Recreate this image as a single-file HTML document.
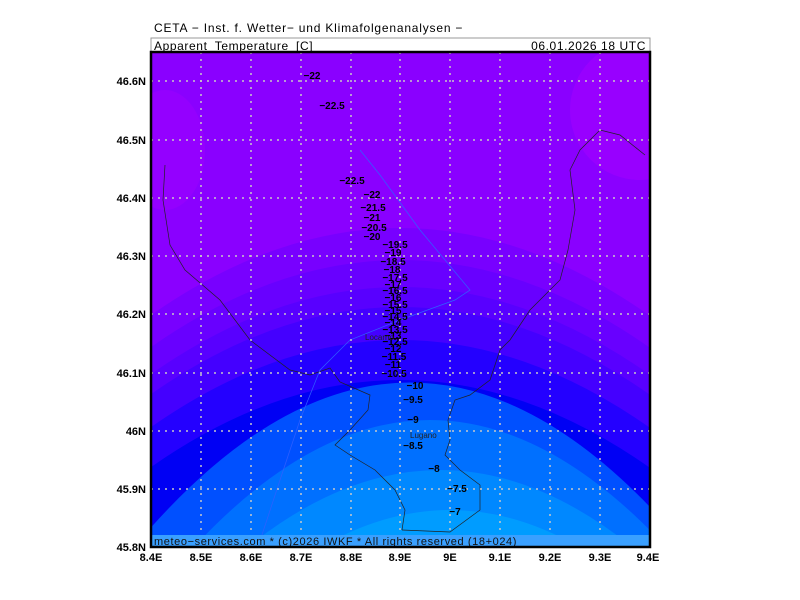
<!DOCTYPE html>
<html><head><meta charset="utf-8"><style>
html,body{margin:0;padding:0;background:#fff;width:800px;height:600px;overflow:hidden}
svg{display:block;position:absolute;left:0;top:0}
</style></head><body>
<svg width="800" height="600" viewBox="0 0 800 600" xmlns="http://www.w3.org/2000/svg" font-family="Liberation Sans, sans-serif">
<defs><clipPath id="c"><rect x="151" y="52" width="499" height="495"/></clipPath></defs>
<text x="154" y="32" font-size="12" fill="#000" letter-spacing="0.8">CETA − Inst. f. Wetter− und Klimafolgenanalysen −</text>
<rect x="151" y="38" width="499" height="14" fill="#fff" stroke="#999" stroke-width="1"/>
<text x="154" y="50" font-size="12" letter-spacing="0.6">Apparent_Temperature_[C]</text>
<text x="646" y="50" font-size="12" text-anchor="end" letter-spacing="0.6">06.01.2026  18 UTC</text>
<g clip-path="url(#c)">
<rect x="151" y="52" width="499" height="495" fill="#8a00ff"/>
<ellipse cx="165" cy="150" rx="40" ry="60" fill="#9400ff"/>
<ellipse cx="640" cy="110" rx="70" ry="70" fill="#9800ff"/>
<path d="M140,323 Q400,133 660,323 L660,548 L140,548Z" fill="#7800ff"/>
<path d="M140,355 Q400,165 660,355 L660,548 L140,548Z" fill="#6800ff"/>
<path d="M140,382 Q400,192 660,382 L660,548 L140,548Z" fill="#5800ff"/>
<path d="M140,402 Q400,212 660,402 L660,548 L140,548Z" fill="#4400ff"/>
<path d="M140,435 Q400,245 660,435 L660,548 L140,548Z" fill="#2400ff"/>
<path d="M140,475 Q400,285 660,475 L660,548 L140,548Z" fill="#0000f4"/>
<path d="M140,540 Q410,225 680,540 L680,548 L140,548Z" fill="#0050ff"/>
<path d="M165,580 Q430,260 695,580Z" fill="#0070ff"/>
<path d="M200,590 Q440,350 680,590Z" fill="#0088ff"/>
<path d="M260,590 Q450,430 640,590Z" fill="#009cff"/>
<path d="M165,165 L163,200 L170,245 L185,270 L220,300 L250,340 L290,370 L310,375 L330,368 L340,382 L370,395 L368,410 L350,430 L335,445 L350,455 L375,470 L395,490 L405,510 L402,530" fill="none" stroke="#222" stroke-width="0.7"/>
<path d="M402,530 L450,532 L480,510 L480,485 L460,470 L445,455 L450,440 L448,420 L455,400 L470,395 L490,380 L500,350 L510,340 L530,310 L560,280 L568,250 L575,210 L570,170 L580,150 L600,130 L620,135 L645,155" fill="none" stroke="#222" stroke-width="0.7"/>
<path d="M360,150 L380,175 L420,230 L470,290 L455,300 L400,320 L350,340 L320,370 L300,420 L280,480 L258,547" fill="none" stroke="#3060ff" stroke-width="0.7"/>
<g stroke="#c8c8c8" stroke-width="1.5" stroke-dasharray="2,5">
<line x1="201" y1="52" x2="201" y2="547"/><line x1="251" y1="52" x2="251" y2="547"/><line x1="301" y1="52" x2="301" y2="547"/><line x1="351" y1="52" x2="351" y2="547"/><line x1="400" y1="52" x2="400" y2="547"/><line x1="450" y1="52" x2="450" y2="547"/><line x1="500" y1="52" x2="500" y2="547"/><line x1="550" y1="52" x2="550" y2="547"/><line x1="600" y1="52" x2="600" y2="547"/>
<line x1="151" y1="81" x2="650" y2="81"/><line x1="151" y1="140" x2="650" y2="140"/><line x1="151" y1="198" x2="650" y2="198"/><line x1="151" y1="256" x2="650" y2="256"/><line x1="151" y1="314" x2="650" y2="314"/><line x1="151" y1="373" x2="650" y2="373"/><line x1="151" y1="431" x2="650" y2="431"/><line x1="151" y1="489" x2="650" y2="489"/>
</g>
<rect x="151" y="535" width="499" height="12" fill="#3aa0ff"/>
<text x="154" y="545" font-size="11" fill="#111" letter-spacing="0.6">meteo−services.com * (c)2026 IWKF * All rights reserved (18+024)</text>
</g>
<g font-size="10" fill="#000" text-anchor="middle" font-weight="bold">
<text x="312" y="79">−22</text><text x="332" y="109">−22.5</text><text x="352" y="184">−22.5</text><text x="372" y="198">−22</text><text x="373" y="211">−21.5</text><text x="372" y="221">−21</text><text x="374" y="231">−20.5</text><text x="372" y="240">−20</text>
<text x="395" y="248">−19.5</text><text x="393" y="256">−19</text><text x="393" y="265">−18.5</text><text x="392" y="273">−18</text><text x="395" y="281">−17.5</text><text x="393" y="288">−17</text><text x="395" y="294">−16.5</text><text x="393" y="301">−16</text><text x="395" y="308">−15.5</text><text x="393" y="314">−15</text><text x="395" y="320">−14.5</text><text x="393" y="326">−14</text><text x="395" y="333">−13.5</text><text x="393" y="339">−13</text><text x="395" y="345">−12.5</text><text x="393" y="352">−12</text><text x="394" y="360">−11.5</text><text x="393" y="368">−11</text><text x="394" y="377">−10.5</text>
<text x="415" y="389">−10</text><text x="413" y="403">−9.5</text><text x="413" y="423">−9</text><text x="413" y="449">−8.5</text><text x="434" y="472">−8</text><text x="457" y="492">−7.5</text><text x="455" y="515">−7</text>
</g>
<text x="365" y="340" font-size="8" fill="#222">Locarno</text>
<text x="410" y="438" font-size="8" fill="#222">Lugano</text>
<rect x="151" y="52" width="499" height="495" fill="none" stroke="#000" stroke-width="2.5"/>
<g font-size="11" font-weight="bold" fill="#000">
<g text-anchor="end">
<text x="146" y="85">46.6N</text><text x="146" y="144">46.5N</text><text x="146" y="202">46.4N</text><text x="146" y="260">46.3N</text><text x="146" y="318">46.2N</text><text x="146" y="377">46.1N</text><text x="146" y="435">46N</text><text x="146" y="493">45.9N</text><text x="146" y="551">45.8N</text>
</g>
<g text-anchor="middle">
<text x="151" y="561">8.4E</text><text x="201" y="561">8.5E</text><text x="251" y="561">8.6E</text><text x="301" y="561">8.7E</text><text x="351" y="561">8.8E</text><text x="400" y="561">8.9E</text><text x="450" y="561">9E</text><text x="500" y="561">9.1E</text><text x="550" y="561">9.2E</text><text x="600" y="561">9.3E</text><text x="648" y="561">9.4E</text>
</g>
</g>
</svg>
</body></html>
